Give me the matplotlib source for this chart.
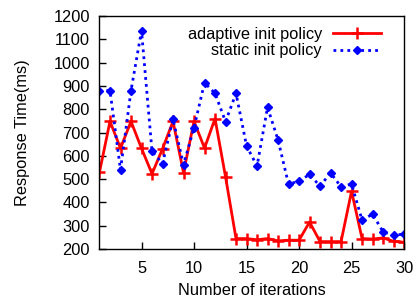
import matplotlib
matplotlib.use("Agg")
import matplotlib.pyplot as plt

plt.rcParams['font.family'] = ['Liberation Sans', 'DejaVu Sans']

iterations = list(range(1, 31))
adaptive = [530, 748, 632, 748, 632, 523, 630, 748, 528, 748, 633, 760, 510, 245,
            245, 240, 245, 235, 238, 238, 316, 232, 232, 232, 448, 245, 243, 248, 233, 229]
static = [880, 880, 540, 880, 1137, 620, 567, 757, 562, 721, 914, 868, 747, 868,
          643, 556, 808, 668, 478, 492, 520, 470, 527, 467, 479, 324, 350, 274, 260, 264]
yticks = list(range(200, 1201, 100))
xticks = [5, 10, 15, 20, 25, 30]

fs = 11.8
fig = plt.figure(figsize=(4.17, 2.99), dpi=100)
ax = fig.add_axes([0.2386, 0.167, 0.7304, 0.7795])

ax.plot(iterations, adaptive, color='#ff0000', linestyle='-', linewidth=2,
        marker='+', markersize=8, markeredgewidth=1.8, label='adaptive init policy')
ax.plot(iterations, static, color='#0000ff', linestyle=(0, (1, 1.5)), linewidth=2,
        marker='D', markersize=4.5, label='static init policy')

ax.set_xlim(1, 30)
ax.set_ylim(200, 1200)
ax.set_xticks(xticks)
ax.set_yticks(yticks)
ax.tick_params(direction='in', length=5, labelsize=fs, colors='black', width=1)
ax.tick_params(axis='x', pad=8.5)
ax.tick_params(axis='y', pad=7)
for s in ax.spines.values():
    s.set_linewidth(1)

ax.set_xlabel('Number of iterations', fontsize=fs, labelpad=5)
ax.set_ylabel('Response Time(ms)', fontsize=fs, labelpad=17)

ax.legend(loc='upper right', frameon=False, markerfirst=False, fontsize=fs,
          handlelength=2.9, handletextpad=0.7, labelspacing=0.1,
          borderaxespad=0.0, borderpad=0.2, bbox_to_anchor=(0.935, 0.968))

fig.savefig('out.png', dpi=100)
